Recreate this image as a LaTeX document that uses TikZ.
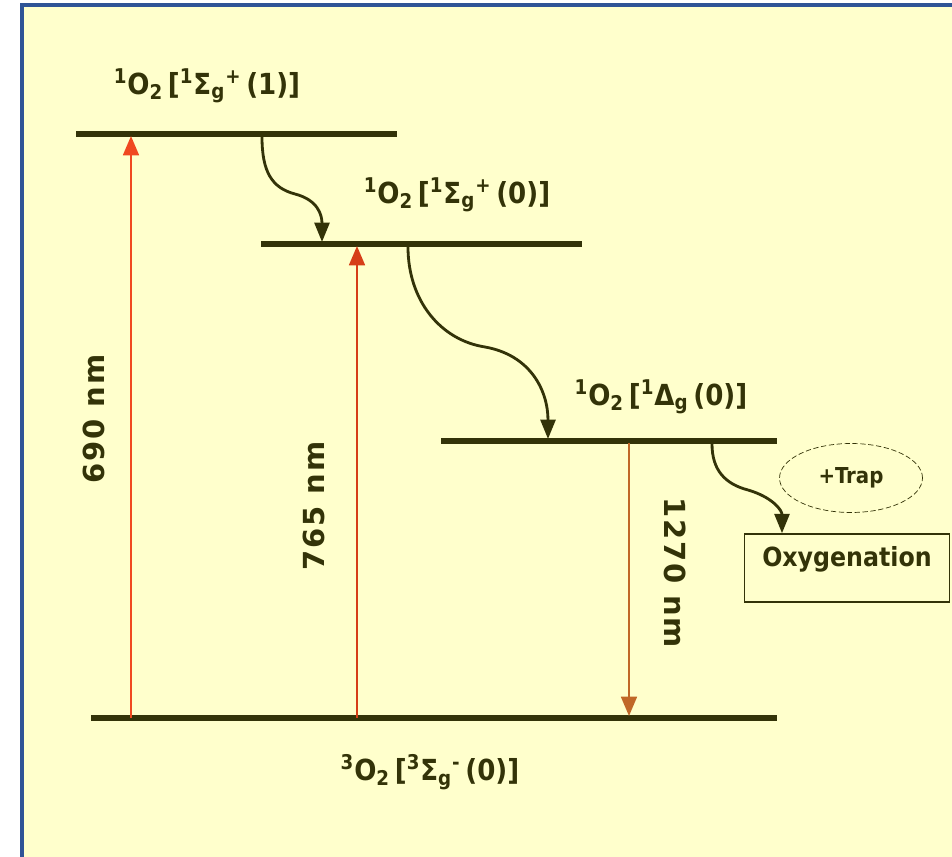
\documentclass[tikz,border=0pt]{standalone}
\usepackage{fontspec}
\setmainfont{DejaVu Sans Condensed}
\newfontfamily\nmfont[LetterSpace=6]{DejaVu Sans}
\definecolor{o2bg}{RGB}{255,255,204}
\definecolor{o2frame}{RGB}{47,84,150}
\definecolor{o2dark}{RGB}{51,51,8}
\definecolor{o2red}{RGB}{240,72,32}
\definecolor{o2redd}{RGB}{214,62,24}
\definecolor{o2brown}{RGB}{192,104,40}
\usetikzlibrary{arrows.meta,positioning,shapes.geometric}

\begin{document}
\begin{tikzpicture}[x=0.02cm, y=-0.02cm,
  level/.style={o2dark, line width=2.9pt},
  excite/.style={-{Triangle[length=11pt, width=9pt]}, line width=1.3pt},
  relax/.style={-{Triangle[length=11pt, width=8.5pt]}, o2dark, line width=1.6pt},
  statelbl/.style={font=\fontsize{16.5}{18}\selectfont\bfseries, text=o2dark, inner sep=0pt},
  nmlbl/.style={font=\nmfont\fontsize{16.5}{18}\selectfont\bfseries, text=o2dark, inner sep=0pt}]
  \useasboundingbox (0,0) rectangle (952,857);

  %--- background and frame ---
  \begin{scope}
    \clip (0,0) rectangle (952,857);
    \fill[o2bg] (22,5) rectangle (970,880);
    \draw[o2frame, line width=2pt] (22,880) -- (22,5) -- (970,5);
  \end{scope}

  %--- energy levels ---
  \coordinate (s1L) at (76,134);  \coordinate (s1R) at (397,134);
  \coordinate (s2L) at (261,244); \coordinate (s2R) at (582,244);
  \coordinate (s3L) at (441,441); \coordinate (s3R) at (777,441);
  \coordinate (gsL) at (91,718);  \coordinate (gsR) at (777,718);
  \draw[level] (s1L) -- (s1R);
  \draw[level] (s2L) -- (s2R);
  \draw[level] (s3L) -- (s3R);
  \draw[level] (gsL) -- (gsR);

  \node[statelbl] (s1lbl) at (207,86) {\textsuperscript{1}O\textsubscript{2}\,[\textsuperscript{1}Σ\textsubscript{g}\textsuperscript{+}\,(1)]};
  \node[statelbl] (s2lbl) at (457,195) {\textsuperscript{1}O\textsubscript{2}\,[\textsuperscript{1}Σ\textsubscript{g}\textsuperscript{+}\,(0)]};
  \node[statelbl] (s3lbl) at (661,397) {\textsuperscript{1}O\textsubscript{2}\,[\textsuperscript{1}Δ\textsubscript{g}\,(0)]};
  \node[statelbl] (gslbl) at (430,772) {\textsuperscript{3}O\textsubscript{2}\,[\textsuperscript{3}Σ\textsubscript{g}\textsuperscript{-}\,(0)]};

  %--- absorption / emission ---
  \coordinate (a1b) at (131,718); \coordinate (a1t) at (131,136);
  \coordinate (a2b) at (357,718); \coordinate (a2t) at (357,246);
  \coordinate (e3t) at (629,443); \coordinate (e3b) at (629,716);
  \draw[excite, o2red] (a1b) -- (a1t);
  \draw[excite, o2redd] (a2b) -- (a2t);
  \draw[excite, o2brown] (e3t) -- (e3b);

  \node[nmlbl, rotate=90] (nm690) at (94,419) {690 nm};
  \node[nmlbl, rotate=90] (nm765) at (314,506) {765 nm};
  \node[nmlbl, rotate=-90] (nm1270) at (675,573) {1270 nm};

  %--- trapping ---
  \node[draw=o2dark, dash pattern=on 3pt off 1.5pt, ellipse, inner sep=0pt, minimum width=2.86cm, minimum height=1.38cm,
    font=\fontsize{12.5}{14}\selectfont\bfseries, text=o2dark] (trap) at (851,478) {+Trap};
  \node[draw=o2dark, line width=0.9pt, minimum width=4.1cm, minimum height=1.36cm, text depth=0.45cm,
    font=\fontsize{15}{17}\selectfont\bfseries, text=o2dark, inner sep=0pt] (oxy) at (847,568) {Oxygenation};

  %--- relaxation ---
  \coordinate (r1s) at (262,137); \coordinate (r1e) at (322,242);
  \coordinate (r2s) at (408,247); \coordinate (r2e) at (548,439);
  \coordinate (r3s) at (712,444);
  \path (oxy.north) ++(-65,0) coordinate (r3e);
  \draw[relax] (r1s) .. controls (262,172) and (272,188) .. (295,194)
    .. controls (318,200) and (322,215) .. (r1e);
  \draw[relax] (r2s) .. controls (408,300) and (440,340) .. (485,347)
    .. controls (530,355) and (548,390) .. (r2e);
  \draw[relax] (r3s) .. controls (712,470) and (725,484) .. (748,490)
    .. controls (772,497) and (782,510) .. (r3e);
\end{tikzpicture}
\end{document}
